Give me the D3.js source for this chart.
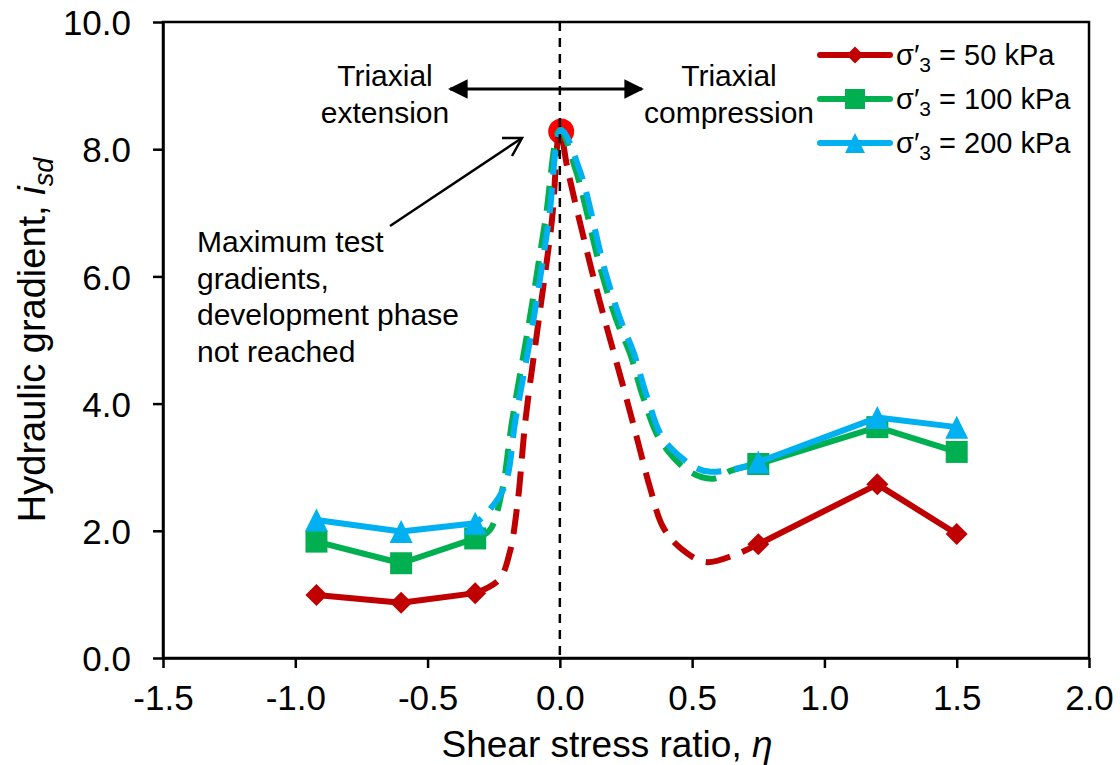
<!DOCTYPE html>
<html>
<head>
<meta charset="utf-8">
<script src="https://cdn.jsdelivr.net/npm/d3@7"></script>
<style>
  body { margin: 0; background: #fff; }
  svg text { font-family: "Liberation Sans", Arial, sans-serif; fill: #000; }
</style>
</head>
<body>
<div id="chart"></div>
<script>
// tick labels
const xTicks = [-1.5, -1.0, -0.5, 0.0, 0.5, 1.0, 1.5, 2.0];
const yTicks = [0, 2, 4, 6, 8, 10];

// measured points (solid segments)
const etaLeft = [-0.92, -0.6, -0.32];
const etaRight = [0.75, 1.2, 1.5];
const s50Left = [0.99, 0.87, 1.02];
const s50Right = [1.79, 2.73, 1.95];
const s100Left = [1.83, 1.49, 1.88];
const s100Right = [3.05, 3.63, 3.24];
const s200Left = [2.17, 1.99, 2.12];
const s200Right = [3.08, 3.78, 3.63];

// dashed trend curves
const trend50Eta = [-0.32, -0.23, -0.19, -0.16, -0.13, -0.08, -0.03, 0, 0.03, 0.12, 0.17, 0.24, 0.29, 0.34, 0.39, 0.45, 0.55, 0.66, 0.75];
const trend50 = [1.02, 1.23, 1.65, 2.43, 3.74, 5.31, 6.88, 8.3, 7.67, 6.1, 5.31, 4.26, 3.48, 2.69, 2.06, 1.75, 1.51, 1.62, 1.79];
const trend100Eta = [-0.32, -0.265, -0.22, -0.18, -0.115, -0.055, 0, 0.06, 0.155, 0.214, 0.265, 0.315, 0.38, 0.49, 0.58, 0.65, 0.75];
const trend100 = [1.88, 2.01, 2.6, 3.74, 5.31, 6.88, 8.3, 7.67, 6.1, 5.31, 4.79, 4.1, 3.42, 2.93, 2.82, 2.95, 3.05];
const trend200Eta = [-0.32, -0.29, -0.21, -0.168, -0.10, -0.042, 0.005, 0.075, 0.17, 0.23, 0.28, 0.33, 0.395, 0.52, 0.57, 0.67, 0.75];
const trend200 = [2.12, 2.22, 2.69, 3.74, 5.31, 6.88, 8.3, 7.67, 6.1, 5.31, 4.79, 4.1, 3.42, 2.98, 2.93, 2.98, 3.08];

// maximum test gradient (red dot)
const peakEta = 0.005;
const peakValue = 8.28;

const seriesNames = ["50", "100", "200"];
const seriesColors = ["#C00000", "#00B050", "#00B0F0"];
const seriesMarkers = ["diamond", "square", "triangle"];
const dashOffsets = [0, 0, 17];

const W = 1120, H = 765;
const margin = { top: 22, right: 31, bottom: 107, left: 163 };
const width = W - margin.left - margin.right;
const height = H - margin.top - margin.bottom;

const svg = d3.select("#chart").append("svg")
  .attr("width", W)
  .attr("height", H);

const g = svg.append("g")
  .attr("transform", `translate(${margin.left},${margin.top})`);

const x = d3.scaleLinear().domain([-1.5, 2.0]).range([0, width]);
const y = d3.scaleLinear().domain([0, 10]).range([height, 0]);

// frame
g.append("rect")
  .attr("x", 0).attr("y", 0)
  .attr("width", width).attr("height", height)
  .attr("fill", "none")
  .attr("stroke", "#000")
  .attr("stroke-width", 2.5);

// axes
const xAxis = g.append("g")
  .attr("transform", `translate(0,${height})`)
  .call(d3.axisBottom(x).tickValues(xTicks).tickFormat(d => d.toFixed(1)).tickSize(10).tickSizeOuter(0).tickPadding(9));
const yAxis = g.append("g")
  .call(d3.axisLeft(y).tickValues(yTicks).tickFormat(d => d.toFixed(1)).tickSize(10).tickSizeOuter(0).tickPadding(22));
[xAxis, yAxis].forEach(ax => {
  ax.select(".domain").attr("stroke-width", 2.5);
  ax.selectAll(".tick line").attr("stroke-width", 2.5);
  ax.selectAll(".tick text").style("font-size", "35px").attr("font-family", null);
});
xAxis.selectAll(".tick text").attr("dy", "0.95em");
yAxis.selectAll(".tick text").attr("dy", "0.36em");

// axis titles
svg.append("text")
  .attr("x", 607)
  .attr("y", 757)
  .attr("text-anchor", "middle")
  .style("font-size", "37px")
  .text("Shear stress ratio, ")
  .append("tspan").style("font-style", "italic").text("η");

const yTitle = svg.append("text")
  .attr("transform", "translate(45,340) rotate(-90)")
  .attr("text-anchor", "middle")
  .style("font-size", "38px");
yTitle.append("tspan").text("Hydraulic gradient, ");
yTitle.append("tspan").style("font-style", "italic").text("i");
yTitle.append("tspan").style("font-style", "italic").style("font-size", "27px").attr("dy", 8).text("sd");

// peak dot
g.append("circle")
  .attr("cx", x(peakEta))
  .attr("cy", y(peakValue))
  .attr("r", 13)
  .attr("fill", "#FF0000");

function markerPath(type, s) {
  const h = s / 2;
  if (type === "diamond") return `M0,${-h}L${h},0L0,${h}L${-h},0Z`;
  if (type === "square") return `M${-h},${-h}H${h}V${h}H${-h}Z`;
  return `M0,${-h}L${h},${h}L${-h},${h}Z`;
}

const line = d3.line().x(d => x(d[0])).y(d => y(d[1]));
const curve = d3.line().x(d => x(d[0])).y(d => y(d[1])).curve(d3.curveCatmullRom.alpha(0.5));

const trends = [
  d3.zip(trend50Eta, trend50),
  d3.zip(trend100Eta, trend100),
  d3.zip(trend200Eta, trend200)
];
const solids = [
  [d3.zip(etaLeft, s50Left), d3.zip(etaRight, s50Right)],
  [d3.zip(etaLeft, s100Left), d3.zip(etaRight, s100Right)],
  [d3.zip(etaLeft, s200Left), d3.zip(etaRight, s200Right)]
];
const markerSizes = [22, 22, 23];

seriesNames.forEach((name, i) => {
  g.append("path")
    .datum(trends[i])
    .attr("d", curve)
    .attr("fill", "none")
    .attr("stroke", seriesColors[i])
    .attr("stroke-width", 6)
    .attr("stroke-dasharray", "25,13")
    .attr("stroke-dashoffset", dashOffsets[i]);
});

seriesNames.forEach((name, i) => {
  solids[i].forEach(seg => {
    g.append("path")
      .datum(seg)
      .attr("d", line)
      .attr("fill", "none")
      .attr("stroke", seriesColors[i])
      .attr("stroke-width", 6)
      .attr("stroke-linejoin", "round");
    g.selectAll(null)
      .data(seg)
      .enter().append("path")
      .attr("transform", d => `translate(${x(d[0])},${y(d[1])})`)
      .attr("d", markerPath(seriesMarkers[i], markerSizes[i]))
      .attr("fill", seriesColors[i]);
  });
});

// zero line
g.append("line")
  .attr("x1", x(0)).attr("x2", x(0))
  .attr("y1", 0).attr("y2", height)
  .attr("stroke", "#000")
  .attr("stroke-width", 2.5)
  .attr("stroke-dasharray", "9,7");

// annotations
svg.append("defs").append("marker")
  .attr("id", "solidHead")
  .attr("viewBox", "0 0 10 10")
  .attr("refX", 9).attr("refY", 5)
  .attr("markerWidth", 7).attr("markerHeight", 7)
  .attr("markerUnits", "strokeWidth")
  .attr("orient", "auto-start-reverse")
  .append("path").attr("d", "M0,0L10,5L0,10Z").attr("fill", "#000");

svg.append("line")
  .attr("x1", 450).attr("x2", 642)
  .attr("y1", 89).attr("y2", 89)
  .attr("stroke", "#000").attr("stroke-width", 2.8)
  .attr("marker-start", "url(#solidHead)")
  .attr("marker-end", "url(#solidHead)");

const annoSize = "30px";
[["Triaxial", 385, 86], ["extension", 385, 123], ["Triaxial", 729, 86], ["compression", 729, 123]]
  .forEach(([t, tx, ty]) => {
    svg.append("text").attr("x", tx).attr("y", ty)
      .attr("text-anchor", "middle").style("font-size", annoSize).text(t);
  });

["Maximum test", "gradients,", "development phase", "not reached"].forEach((t, i) => {
  svg.append("text").attr("x", 197).attr("y", 252 + i * 36.7)
    .style("font-size", "30px").text(t);
});

svg.append("line")
  .attr("x1", 390).attr("y1", 226)
  .attr("x2", 522).attr("y2", 138)
  .attr("stroke", "#000").attr("stroke-width", 2.5);
svg.append("path")
  .attr("d", "M502,138L522,138L512,156")
  .attr("fill", "none").attr("stroke", "#000").attr("stroke-width", 2.5)
  .attr("stroke-linejoin", "miter");

// legend
const legend = svg.append("g");
seriesNames.forEach((name, i) => {
  const ly = 55 + i * 44;
  legend.append("line")
    .attr("x1", 820).attr("x2", 890)
    .attr("y1", ly).attr("y2", ly)
    .attr("stroke", seriesColors[i]).attr("stroke-width", 6)
    .attr("stroke-linecap", "round");
  legend.append("path")
    .attr("transform", `translate(855,${ly})`)
    .attr("d", markerPath(seriesMarkers[i], i === 0 ? 17 : 20))
    .attr("fill", seriesColors[i]);
  const t = legend.append("text").attr("x", 896).attr("y", ly + 10).style("font-size", "29px");
  t.append("tspan").text("σ′");
  t.append("tspan").style("font-size", "21px").attr("dy", 7).text("3");
  t.append("tspan").attr("dy", -7).text(` = ${name} kPa`);
});
</script>
</body>
</html>
